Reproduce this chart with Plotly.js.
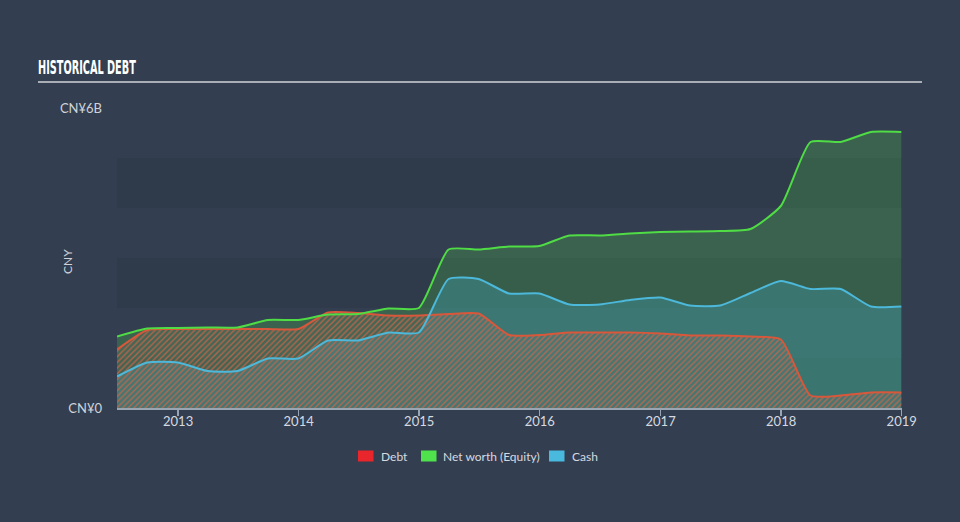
<!DOCTYPE html>
<html>
<head>
<meta charset="utf-8">
<script src="https://cdn.plot.ly/plotly-3.0.1.min.js"></script>
<style>
html,body{margin:0;padding:0;background:#333f50;}
#chart{width:960px;height:522px;}
</style>
</head>
<body>
<div id="chart"></div>
<script>
// Quarter-end dates
const dates = [
  '2012-06-30','2012-09-30','2012-12-31','2013-03-31','2013-06-30','2013-09-30','2013-12-31',
  '2014-03-31','2014-06-30','2014-09-30','2014-12-31','2015-03-31','2015-06-30','2015-09-30',
  '2015-12-31','2016-03-31','2016-06-30','2016-09-30','2016-12-31','2017-03-31','2017-06-30',
  '2017-09-30','2017-12-31','2018-03-31','2018-06-30','2018-09-30','2018-12-31'
];
// Values in CNY billions
const netWorth = [1.43,1.59,1.60,1.61,1.61,1.76,1.76,1.87,1.88,1.99,2.00,3.17,3.17,3.23,
  3.24,3.45,3.45,3.49,3.52,3.53,3.54,3.58,4.04,5.32,5.32,5.52,5.52];
const debt = [1.17,1.56,1.58,1.58,1.58,1.58,1.58,1.91,1.90,1.85,1.85,1.88,1.89,1.46,
  1.46,1.51,1.51,1.51,1.49,1.45,1.45,1.43,1.37,0.25,0.25,0.31,0.31];
const cash = [0.63,0.91,0.91,0.74,0.74,0.99,0.99,1.35,1.35,1.51,1.51,2.58,2.58,2.29,
  2.29,2.07,2.07,2.16,2.21,2.05,2.05,2.30,2.54,2.38,2.38,2.03,2.03];

const yTickVals = [0, 6];
const yTickText = ['CN¥0', 'CN¥6B'];
const xTickVals = ['2013-01-01','2014-01-01','2015-01-01','2016-01-01','2017-01-01','2018-01-01','2019-01-01'];
const xTickText = ['2013','2014','2015','2016','2017','2018','2019'];
const seriesNames = ['Debt','Net worth (Equity)','Cash'];
const legendColors = ['#e8262b','#4fe24c','#4ab9de'];

const GREEN = '#4fdc45', CYAN = '#4cb8da', RED = '#d9573a';
const SM = 0.55;

const traces = [
  {x: dates, y: netWorth, type:'scatter', mode:'none', fill:'tozeroy',
   fillcolor:'rgba(77,180,76,0.30)', line:{shape:'spline', smoothing:SM}, showlegend:false, hoverinfo:'skip'},
  {x: dates, y: cash, type:'scatter', mode:'none', fill:'tozeroy',
   fillcolor:'rgba(62,155,175,0.38)', line:{shape:'spline', smoothing:SM}, showlegend:false, hoverinfo:'skip'},
  {x: dates, y: debt, type:'scatter', mode:'none', fill:'tozeroy',
   fillcolor:'rgba(0,0,0,0)',
   fillpattern:{shape:'/', size:4, solidity:0.35, fgcolor:'rgba(215,100,70,0.75)', bgcolor:'rgba(120,120,115,0.18)'},
   line:{shape:'spline', smoothing:SM}, showlegend:false, hoverinfo:'skip'},
  {x: dates, y: debt, type:'scatter', mode:'lines', line:{color:RED, width:2, shape:'spline', smoothing:SM}, showlegend:false, hoverinfo:'skip'},
  {x: dates, y: cash, type:'scatter', mode:'lines', line:{color:CYAN, width:2, shape:'spline', smoothing:SM}, showlegend:false, hoverinfo:'skip'},
  {x: dates, y: netWorth, type:'scatter', mode:'lines', line:{color:GREEN, width:2, shape:'spline', smoothing:SM}, showlegend:false, hoverinfo:'skip'}
];

// pixel helpers for plot area (l=117, r=902, t=108, b=408)
const PX = p => (p - 117) / 785;
const PY = p => (408 - p) / 300;

const bandFill = 'rgba(20,28,40,0.13)';
const shapes = [
  {type:'rect', xref:'paper', yref:'y', x0:0, x1:1, y0:0, y1:1, fillcolor:bandFill, line:{width:0}, layer:'below'},
  {type:'rect', xref:'paper', yref:'y', x0:0, x1:1, y0:2, y1:3, fillcolor:bandFill, line:{width:0}, layer:'below'},
  {type:'rect', xref:'paper', yref:'y', x0:0, x1:1, y0:4, y1:5, fillcolor:bandFill, line:{width:0}, layer:'below'},
  {type:'line', xref:'paper', yref:'paper', x0:PX(38), x1:PX(922), y0:PY(82), y1:PY(82),
   line:{color:'#a9aeb6', width:2}}
];

// manual legend
const swatchX = [358, 421, 549];
const textX = [379, 441, 570];
const annotations = [
  {xref:'paper', yref:'paper', x:PX(67), y:PY(262), text:'CNY', textangle:-90, showarrow:false,
   font:{size:12, color:'#cfd3d9'}, xanchor:'center', yanchor:'middle'}
];
for (let i = 0; i < 3; i++) {
  shapes.push({type:'rect', xref:'paper', yref:'paper', x0:PX(swatchX[i]), x1:PX(swatchX[i]+15.5),
    y0:PY(450.5), y1:PY(461.5), fillcolor:legendColors[i], line:{width:0}});
  annotations.push({xref:'paper', yref:'paper', x:PX(textX[i]), y:PY(456), text:seriesNames[i],
    showarrow:false, xanchor:'left', yanchor:'middle', font:{size:12, color:'#d6dae0'}});
}

const layout = {
  width:960, height:522,
  paper_bgcolor:'#333f50', plot_bgcolor:'#333f50',
  margin:{l:117, r:58, t:108, b:114},
  title:{text:'HISTORICAL DEBT', xref:'container', yref:'container', x:38/960, xanchor:'left',
         y:1-67.5/522, yanchor:'middle',
         font:{family:'DejaVu Sans, sans-serif', size:20, color:'#ffffff', weight:700}},
  font:{family:'Lato, Open Sans, sans-serif', color:'#d0d4da', size:12},
  xaxis:{type:'date', range:['2012-06-30','2019-01-02'], tickvals:xTickVals, ticktext:xTickText,
         showgrid:false, zeroline:false, showline:true, linecolor:'#9aa5b3', linewidth:1.5,
         ticks:'outside', ticklen:6, tickcolor:'#9aa5b3', tickwidth:1.5, ticklabelstandoff:-5,
         tickfont:{size:13, color:'#d6dae0'}, fixedrange:true},
  yaxis:{range:[0,6], tickvals:yTickVals, ticktext:yTickText, showgrid:false, zeroline:false,
         showline:false, ticks:'', ticklabelstandoff:14,
         tickfont:{size:13, color:'#cfd3d9'}, fixedrange:true},
  shapes:shapes,
  annotations:annotations,
  showlegend:false,
  hovermode:false
};

Plotly.newPlot('chart', traces, layout, {displayModeBar:false, staticPlot:true}).then(function(gd){
  // condense title glyphs horizontally to match narrow display face
  const t = gd.querySelector('.gtitle');
  if (t) {
    const bb = t.getBBox();
    const target = 98;
    const sx = target / bb.width;
    const x0 = bb.x;
    t.setAttribute('transform', 'translate(' + x0 + ',0) scale(' + sx + ',1) translate(' + (-x0) + ',0)');
  }
});
</script>
</body>
</html>
